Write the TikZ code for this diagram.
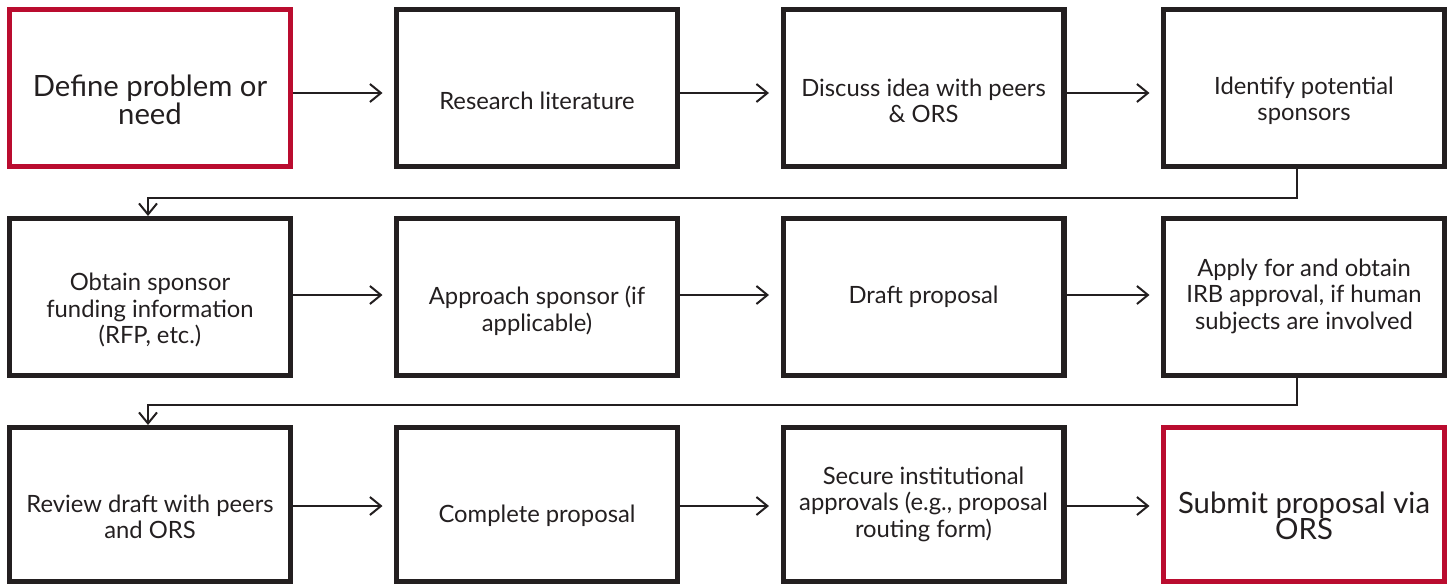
\documentclass[tikz,border=0pt]{standalone}
\usepackage{fontspec}
\setmainfont{Lato}
\usetikzlibrary{arrows.meta,calc}
\definecolor{ink}{HTML}{231F20}
\definecolor{crim}{HTML}{BA0C2F}
\tikzset{
  box/.style={draw=ink, line width=5.3pt, minimum width=280.7pt, minimum height=156.7pt, inner sep=0pt},
  redbox/.style={box, draw=crim},
  lastrow/.style={minimum height=153.7pt},
  txt/.style={align=center, text=ink, font=\fontsize{23.8}{26.4}\selectfont, inner sep=0pt},
  bigtxt/.style={txt, font=\fontsize{29.3}{26.6}\selectfont},
  conn/.style={draw=ink, line width=2pt, -{Straight Barb[length=11pt,width=18pt,line width=2pt]}},
}
\begin{document}
\begin{tikzpicture}[x=1pt,y=-1pt]
\useasboundingbox (0,0) rectangle (1448,584);
% boxes
\node[redbox] (b1) at (150,88) {};
\node[box] (b2) at (537,88) {};
\node[box] (b3) at (923.5,88) {};
\node[box] (b4) at (1304,88) {};
\node[box] (b5) at (150,297) {};
\node[box] (b6) at (537,297) {};
\node[box] (b7) at (923.5,297) {};
\node[box] (b8) at (1304,297) {};
\node[box,lastrow] (b9) at (150,504.5) {};
\node[box,lastrow] (b10) at (537,504.5) {};
\node[box,lastrow] (b11) at (923.5,504.5) {};
\node[redbox,lastrow] (b12) at (1304,504.5) {};
% texts
\node[bigtxt] (t1) at (150,100) {Define problem or\\need};
\node[txt] (t2) at (537,101) {Research literature};
\node[txt] (t3) at (923.5,101) {Discuss idea with peers\\\& ORS};
\node[txt] (t4) at (1304,101) {Identify potential\\sponsors};
\node[txt] (t5) at (150,310) {Obtain sponsor\\funding information\\(RFP, etc.)};
\node[txt] (t6) at (537,311) {Approach sponsor (if\\applicable)};
\node[txt] (t7) at (923.5,297) {Draft proposal};
\node[txt] (t8) at (1304,296) {Apply for and obtain\\IRB approval, if human\\subjects are involved};
\node[txt] (t9) at (150,517) {Review draft with peers\\and ORS};
\node[txt] (t10) at (537,516) {Complete proposal};
\node[txt] (t11) at (923.5,504) {Secure institutional\\approvals (e.g., proposal\\routing form)};
\node[bigtxt] (t12) at (1304,516) {Submit proposal via\\ORS};
% row arrows
\foreach \a/\b in {b1/b2,b2/b3,b3/b4}
  \draw[conn] ([yshift=-5pt]\a.east) -- ([yshift=-5pt,xshift=-11.5pt]\b.west);
\foreach \a/\b in {b5/b6,b6/b7,b7/b8}
  \draw[conn] ([yshift=2pt]\a.east) -- ([yshift=2pt,xshift=-11.5pt]\b.west);
\foreach \a/\b in {b9/b10,b10/b11,b11/b12}
  \draw[conn] ([yshift=-1.5pt]\a.east) -- ([yshift=-1.5pt,xshift=-11.5pt]\b.west);
% wrap connectors
\draw[conn] ([xshift=-7pt]b4.south) -- ++(0,28.5) -| ([xshift=-2pt]b5.north);
\draw[conn] ([xshift=-7pt]b8.south) -- ++(0,26.5) -| ([xshift=-2pt]b9.north);
\end{tikzpicture}
\end{document}
